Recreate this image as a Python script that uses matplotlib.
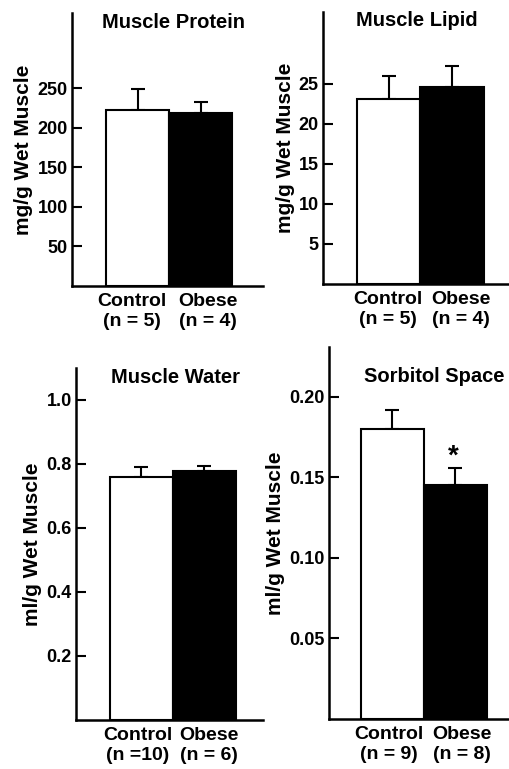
import matplotlib.pyplot as plt
import numpy as np

plt.rcParams['font.family'] = ['Liberation Sans', 'DejaVu Sans']
plt.rcParams['font.weight'] = 'bold'

groups = ['Control', 'Obese']

# values (mean, upper error)
protein_mean = [222, 218]
protein_err = [27, 14]
protein_n = ['(n = 5)', '(n = 4)']
protein_ticks = [50, 100, 150, 200, 250]

lipid_mean = [23.1, 24.6]
lipid_err = [2.9, 2.7]
lipid_n = ['(n = 5)', '(n = 4)']
lipid_ticks = [5, 10, 15, 20, 25]

water_mean = [0.76, 0.778]
water_err = [0.032, 0.016]
water_n = ['(n =10)', '(n = 6)']
water_ticks = [0.2, 0.4, 0.6, 0.8, 1.0]

sorbitol_mean = [0.180, 0.145]
sorbitol_err = [0.012, 0.011]
sorbitol_n = ['(n = 9)', '(n = 8)']
sorbitol_ticks = [0.05, 0.10, 0.15, 0.20]

W, H = 510, 769
fig = plt.figure(figsize=(W / 100, H / 100), dpi=100)


def make_panel(px, title, ylabel, means, errs, ns, ticks, ylim, xlim, fmt, lab_shift, title_xy):
    l, r, t, b = px
    ax = fig.add_axes([l / W, 1 - b / H, (r - l) / W, (b - t) / H])
    x = np.arange(len(groups))
    ax.bar(x, means, width=1.0, color=['white', 'black'], edgecolor='black', linewidth=1.5, zorder=2)
    ax.errorbar(x, means, yerr=[[0] * len(errs), errs], fmt='none', ecolor='black',
                elinewidth=1.5, capsize=5, capthick=1.5, zorder=1)
    ax.set_xlim(*xlim)
    ax.set_ylim(0, ylim)
    ax.spines['top'].set_visible(False)
    ax.spines['right'].set_visible(False)
    ax.spines['left'].set_linewidth(1.8)
    ax.spines['bottom'].set_linewidth(1.8)
    ax.set_yticks(ticks)
    ax.set_yticklabels([fmt.format(v) for v in ticks], fontsize=13, fontweight='bold')
    ax.tick_params(axis='y', direction='in', length=7, width=1.5, pad=3)
    # group labels sit a little apart from the bar centres in the original
    ax.set_xticks(x + np.array(lab_shift) / 63.0)
    ax.set_xticklabels([f'{g}\n{n}' for g, n in zip(groups, ns)],
                       fontsize=14, fontweight='bold', linespacing=1.25)
    ax.tick_params(axis='x', length=0, pad=5)
    ax.set_ylabel(ylabel, fontsize=15, fontweight='bold', labelpad=3)
    ax.text(title_xy[0], title_xy[1], title, transform=ax.transAxes, ha='center', va='center',
            fontsize=14.5, fontweight='bold')
    return ax


make_panel((72, 263, 13, 286), 'Muscle Protein', 'mg/g Wet Muscle',
           protein_mean, protein_err, protein_n, protein_ticks, 345, (-1.04, 1.99),
           '{:.0f}', (-6, 7), (0.534, 0.967))
make_panel((323, 510, 12, 284), 'Muscle Lipid', 'mg/g Wet Muscle',
           lipid_mean, lipid_err, lipid_n, lipid_ticks, 34, (-1.035, 1.91),
           '{:.0f}', (-1, 9), (0.503, 0.97))
make_panel((76, 263, 368, 720), 'Muscle Water', 'ml/g Wet Muscle',
           water_mean, water_err, water_n, water_ticks, 1.1, (-1.04, 1.93),
           '{:.1f}', (-4, 4), (0.53, 0.974))
ax4 = make_panel((329, 510, 347, 719), 'Sorbitol Space', 'ml/g Wet Muscle',
                 sorbitol_mean, sorbitol_err, sorbitol_n, sorbitol_ticks, 0.231, (-1.01, 1.87),
                 '{:.2f}', (-4, 7), (0.58, 0.92))
ax4.text(0.97, 0.163, '*', ha='center', va='center', fontsize=20, fontweight='bold')

fig.savefig('out.png', dpi=100)
